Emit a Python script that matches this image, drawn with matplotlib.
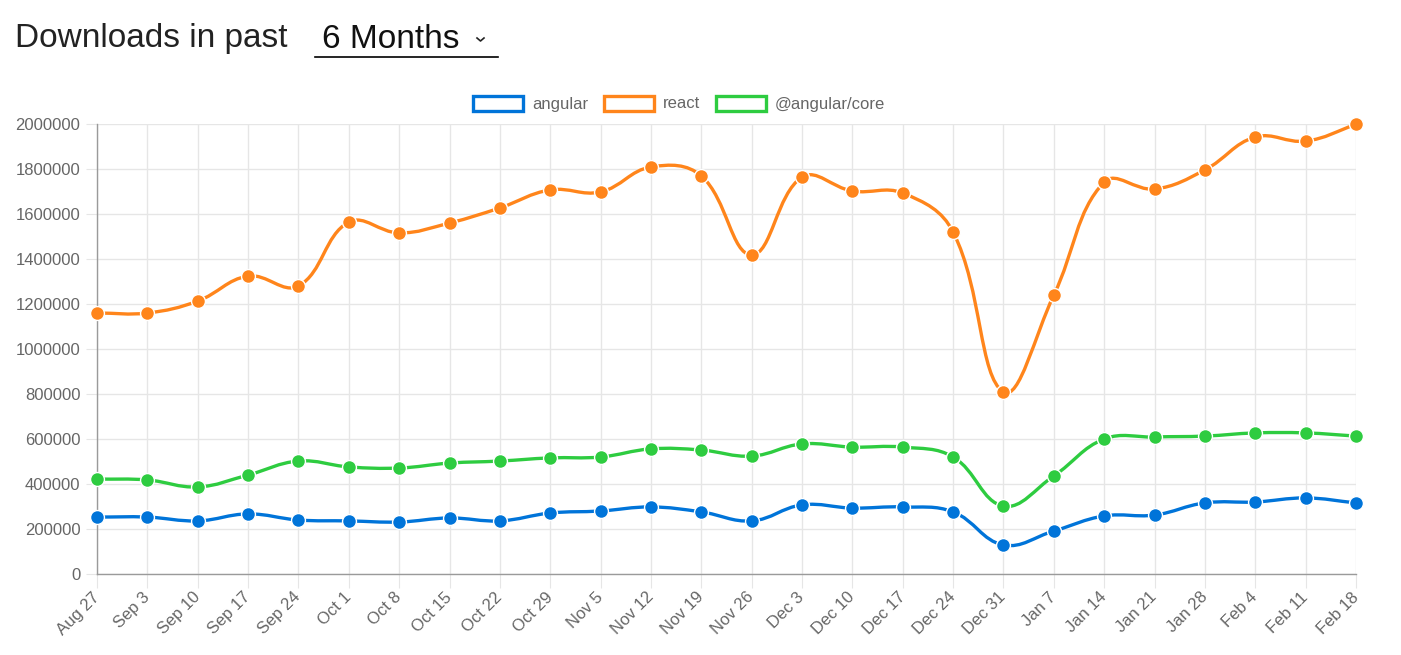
"""
plot.py
npm downloads over the past 6 months, weekly
"""
import numpy as np
import matplotlib
matplotlib.use('Agg')
import matplotlib.pyplot as plt
from matplotlib.path import Path
from matplotlib.patches import PathPatch, Rectangle
from matplotlib.lines import Line2D

weeks = ['Aug 27', 'Sep 3', 'Sep 10', 'Sep 17', 'Sep 24', 'Oct 1', 'Oct 8', 'Oct 15',
         'Oct 22', 'Oct 29', 'Nov 5', 'Nov 12', 'Nov 19', 'Nov 26', 'Dec 3', 'Dec 10',
         'Dec 17', 'Dec 24', 'Dec 31', 'Jan 7', 'Jan 14', 'Jan 21', 'Jan 28', 'Feb 4',
         'Feb 11', 'Feb 18']

angular = [253000, 253000, 236000, 267000, 240000, 236000, 231000, 249000, 236000,
           271000, 280000, 298000, 276000, 236000, 307000, 293000, 298000, 276000,
           129000, 191000, 258000, 262000, 316000, 320000, 338000, 316000]

react = [1160000, 1160000, 1213000, 1324000, 1280000, 1564000, 1516000, 1560000,
         1627000, 1707000, 1698000, 1809000, 1769000, 1418000, 1764000, 1702000,
         1693000, 1520000, 809000, 1240000, 1742000, 1711000, 1796000, 1942000,
         1924000, 1998000]

angular_core = [422000, 418000, 387000, 440000, 502000, 476000, 471000, 493000,
                502000, 516000, 520000, 556000, 551000, 524000, 578000, 564000,
                564000, 520000, 302000, 436000, 600000, 609000, 613000, 627000,
                627000, 613000]

series = [('angular', angular, '#0074D9'),
          ('react', react, '#FF851B'),
          ('@angular/core', angular_core, '#2ECC40')]

FONT = 'Liberation Sans'
GREY = '#666666'


def spline_path(ax, x, y, tension=0.4):
    '''
    chart.js style bezier through the points, computed in pixel space
    '''
    pts = ax.transData.transform(np.column_stack([x, y]))
    bb = ax.bbox
    n = len(pts)
    ctrl_prev = np.zeros_like(pts)
    ctrl_next = np.zeros_like(pts)
    for i in range(n):
        prev = pts[i - 1] if i > 0 else pts[i]
        cur = pts[i]
        nxt = pts[i + 1] if i < n - 1 else pts[i]
        d01 = np.hypot(*(cur - prev))
        d12 = np.hypot(*(nxt - cur))
        tot = d01 + d12
        s01 = d01 / tot if tot else 0
        s12 = d12 / tot if tot else 0
        ctrl_prev[i] = cur - tension * s01 * (nxt - prev)
        ctrl_next[i] = cur + tension * s12 * (nxt - prev)
    # keep control points inside the chart area
    for c in (ctrl_prev, ctrl_next):
        c[:, 0] = np.clip(c[:, 0], bb.x0, bb.x1)
        c[:, 1] = np.clip(c[:, 1], bb.y0, bb.y1)
    verts = [pts[0]]
    codes = [Path.MOVETO]
    for i in range(1, n):
        verts += [ctrl_next[i - 1], ctrl_prev[i], pts[i]]
        codes += [Path.CURVE4] * 3
    verts = ax.transData.inverted().transform(np.array(verts))
    return Path(verts, codes)


fig = plt.figure(figsize=(14.01, 6.55), dpi=100)
ax = fig.add_axes([97 / 1401, 81 / 655, (1356 - 97) / 1401, 450 / 655])

x = np.arange(len(weeks))
ax.set_xlim(0, len(weeks) - 1)
ax.set_ylim(0, 2000000)
ax.set_yticks(np.arange(0, 2000001, 200000))
ax.yaxis.set_major_formatter(plt.FuncFormatter(lambda v, pos: '{:.0f}'.format(v)))
ax.set_xticks(x)
ax.set_xticklabels(weeks, rotation=45, ha='right', va='center', rotation_mode='anchor')

ax.grid(True, color='#e6e6e6', linewidth=1)
ax.set_axisbelow(True)
for side in ('top', 'right'):
    ax.spines[side].set_visible(False)
for side in ('left', 'bottom'):
    ax.spines[side].set_color('#9a9a9a')
    ax.spines[side].set_linewidth(1)
ax.tick_params(axis='both', length=10, color='#e6e6e6', labelcolor=GREY, labelsize=12)
ax.tick_params(axis='y', length=8, pad=4)
ax.tick_params(axis='x', pad=5)
for lab in ax.get_xticklabels() + ax.get_yticklabels():
    lab.set_fontfamily(FONT)

fig.canvas.draw()
for name, vals, color in series:
    path = spline_path(ax, x, vals)
    ax.add_patch(PathPatch(path, fill=False, edgecolor=color, linewidth=2.4,
                           capstyle='round', joinstyle='round', zorder=3))
    ax.plot(x, vals, linestyle='none', marker='o', markersize=10,
            markerfacecolor=color, markeredgecolor='white', markeredgewidth=1,
            clip_on=False, zorder=4)

# legend drawn by hand, chart.js style
W, H = 1401, 655
legend_items = [(473, 532, 'angular', '#0074D9'),
                (604, 663, 'react', '#FF851B'),
                (716, 775, '@angular/core', '#2ECC40')]
for bx, tx, label, color in legend_items:
    fig.patches.append(Rectangle((bx / W, 1 - 111 / H), 50 / W, 15 / H,
                                 transform=fig.transFigure, facecolor='white',
                                 edgecolor=color, linewidth=2.4))
    fig.text(tx / W, 1 - 104 / H, label, color=GREY, fontsize=12, family=FONT,
             va='center', ha='left')

# header with the dropdown
fig.text(15 / W, 1 - 39 / H, 'Downloads in past', fontsize=24, color='#222222',
         family=FONT, va='center', ha='left')
fig.text(322 / W, 1 - 39 / H, '6 Months', fontsize=24, color='#111111',
         family=FONT, va='center', ha='left')
fig.add_artist(Line2D([315 / W, 498 / W], [1 - 57 / H, 1 - 57 / H],
                      transform=fig.transFigure, color='black', linewidth=1.2))
fig.add_artist(Line2D([477 / W, 480.5 / W, 484 / W], [1 - 38 / H, 1 - 41 / H, 1 - 38 / H],
                      transform=fig.transFigure, color='#222222', linewidth=1.2))

fig.savefig('out.png', dpi=100, facecolor='white')
